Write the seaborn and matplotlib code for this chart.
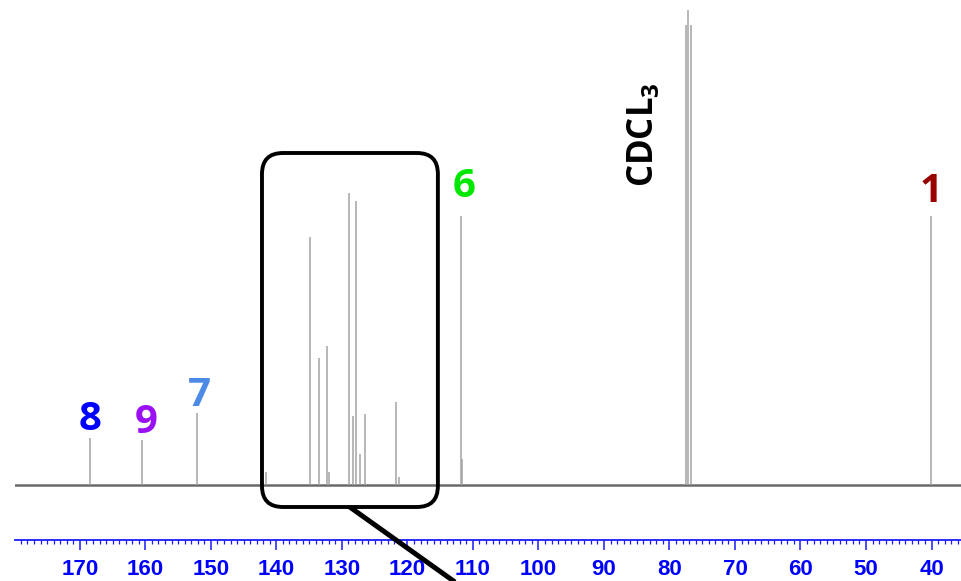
import numpy as np
import pandas as pd
import matplotlib
matplotlib.use("Agg")
import matplotlib.pyplot as plt
import seaborn as sns
from matplotlib.patches import FancyBboxPatch
from matplotlib.ticker import MultipleLocator

# ---- data (chemical shift in ppm, intensity in arbitrary units) ----
peak_ppm = [168.5, 160.5, 152.1, 141.6, 134.9, 133.5, 132.3, 131.9, 128.9,
            128.3, 127.9, 127.3, 126.4, 121.8, 121.3, 111.8, 111.6,
            77.5, 77.1, 76.7, 40.1]
peak_int = [47, 45, 72, 13, 248, 127, 139, 13, 292,
            69, 284, 31, 71, 83, 8, 269, 26,
            460, 475, 460, 269]

label_text = ["8", "9", "7", "6", "1"]
label_ppm = [168.4, 159.9, 151.7, 111.3, 40.1]
label_y = [55, 52, 79, 288, 283]
label_color = ["#0000ff", "#9a10f5", "#4d8ae6", "#00e800", "#990000"]

tick_values = list(range(40, 171, 10))
x_range = (179.9, 35.5)
zoom_box_ppm = (142.2, 115.35)
zoom_box_int = (-22, 332)

# ---- style ----
sns.set_theme(style="white")
plt.rcParams["font.family"] = ["Open Sans", "DejaVu Sans"]
plt.rcParams["mathtext.fontset"] = "custom"
plt.rcParams["mathtext.bf"] = "Open Sans:bold"
plt.rcParams["mathtext.rm"] = "Open Sans"

fig = plt.figure(figsize=(9.61, 5.81), dpi=100)
ax = fig.add_axes([15 / 961, 41 / 581, 946 / 961, 540 / 581])
ax.set_facecolor("white")

# baseline
base = pd.DataFrame({"ppm": [x_range[0], x_range[1]], "intensity": [0, 0]})
sns.lineplot(data=base, x="ppm", y="intensity", ax=ax, color="#6a6a6a",
             linewidth=1.8, zorder=2)

# peaks
ax.vlines(peak_ppm, 0, peak_int, color="#a3a3a3", linewidth=1.1, zorder=3)

ax.set_xlim(*x_range)
ax.set_ylim(-55, 485)

# labels
for t, xp, yp, c in zip(label_text, label_ppm, label_y, label_color):
    ax.text(xp, yp, t, color=c, fontsize=29, fontweight="bold",
            ha="center", va="baseline", zorder=5)

ax.text(84.0, 350, r"$\mathbf{CDCL_3}$", rotation=90, color="black",
        fontsize=25, ha="center", va="center", zorder=5)

# axis styling
for s in ["top", "left", "right"]:
    ax.spines[s].set_visible(False)
ax.spines["bottom"].set_color("#1a1aff")
ax.spines["bottom"].set_linewidth(1.3)
ax.set_yticks([])
ax.set_xticks(tick_values)
ax.xaxis.set_minor_locator(MultipleLocator(1))
ax.tick_params(axis="x", which="major", direction="out", length=7, width=1.1,
               color="#1a1aff", labelcolor="#0000ff", pad=7, bottom=True)
ax.tick_params(axis="x", which="minor", direction="out", length=3.2, width=0.9,
               color="#1a1aff", bottom=True)
for lab in ax.get_xticklabels():
    lab.set_fontfamily(["Liberation Sans Narrow", "Liberation Sans", "DejaVu Sans"])
    lab.set_fontweight("bold")
    lab.set_fontsize(16)
ax.set_xlabel("")
ax.set_ylabel("")

# zoom box (drawn in display pixels so corners stay round)
fig.canvas.draw()
p0 = ax.transData.transform((zoom_box_ppm[0], zoom_box_int[0]))
p1 = ax.transData.transform((zoom_box_ppm[1], zoom_box_int[1]))
box = FancyBboxPatch((p0[0] + 21, p0[1] + 21), (p1[0] - p0[0]) - 42,
                     (p1[1] - p0[1]) - 42,
                     boxstyle="round,pad=21,rounding_size=21",
                     fill=False, edgecolor="black", linewidth=2.8,
                     transform=None, zorder=6)
fig.patches.append(box)
box.set_figure(fig)

# pointer line
ax.plot([128.8, 112.75], [-22, -97], color="black", linewidth=3.6,
        solid_capstyle="butt", clip_on=False, zorder=7)

fig.savefig("out.png", dpi=100, facecolor="white")
